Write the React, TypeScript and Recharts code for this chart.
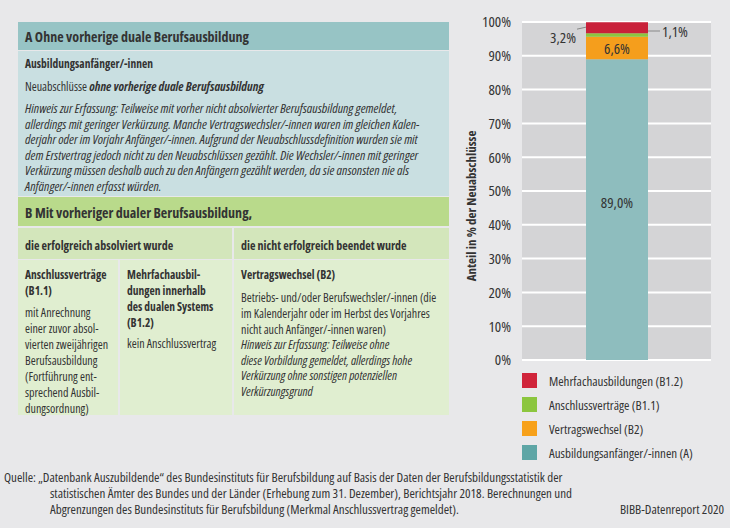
import { BarChart, Bar, XAxis, YAxis, CartesianGrid, LabelList } from 'recharts'

const categories = ['Neuabschlüsse 2018']
const anfaenger = [89.0]
const vertragswechsel = [6.6]
const anschluss = [1.1]
const mehrfach = [3.2]
const yTicks = [0, 10, 20, 30, 40, 50, 60, 70, 80, 90, 100]

const seriesNames = ['Ausbildungsanfänger/-innen (A)', 'Vertragswechsel (B2)', 'Anschlussverträge (B1.1)', 'Mehrfachausbildungen (B1.2)']

const FONT = '"Open Sans", Roboto, sans-serif'
const TXT = '#333333'
const COND: any = { fontStretch: 'condensed' }

const data = categories.map((name, i) => ({
    name,
    anfaenger: anfaenger[i],
    vertragswechsel: vertragswechsel[i],
    anschluss: anschluss[i],
    mehrfach: mehrfach[i],
}))

const fmt = (v: number) => `${v.toFixed(1).replace('.', ',')}%`

const legendItems = [
    { name: seriesNames[3], color: '#d0243a' },
    { name: seriesNames[2], color: '#8cc63f' },
    { name: seriesNames[1], color: '#f7a11a' },
    { name: seriesNames[0], color: '#5ea6a6' },
]

const CenterLabel = ({ x, y, width, height, value, dy = 0 }: any) => (
    <text x={x + width / 2} y={y + height / 2 + dy} fill={TXT} fontSize={15} textAnchor="middle" dominantBaseline="central" fontFamily={FONT} style={COND}>
        {fmt(value)}
    </text>
)

const LeftLabel = ({ x, y, height, value }: any) => (
    <g>
        <line x1={x - 9} y1={y + height - 4} x2={x} y2={y + height - 6} stroke="#888" strokeWidth={1} />
        <text x={x - 10} y={y + height + 4} fill={TXT} fontSize={15} textAnchor="end" dominantBaseline="central" fontFamily={FONT} style={COND}>
            {fmt(value)}
        </text>
    </g>
)

const RightLabel = ({ x, y, width, height, value }: any) => (
    <g>
        <line x1={x + width} y1={y + height / 2 - 4} x2={x + width + 12} y2={y + height / 2 - 4} stroke="#888" strokeWidth={1} />
        <text x={x + width + 14} y={y + height / 2 - 4} fill={TXT} fontSize={15} textAnchor="start" dominantBaseline="central" fontFamily={FONT} style={COND}>
            {fmt(value)}
        </text>
    </g>
)

// one text line, centred vertically on `mid`
const line = (mid: number, left: number, text: any, opts: any = {}) => (
    <div style={{ position: 'absolute', top: mid - 7.5, left, height: 15, lineHeight: '15px', whiteSpace: 'nowrap', fontSize: 12, ...opts }}>
        {text}
    </div>
)

const H: any = { fontWeight: 'bold', fontSize: 14 }
const B: any = { fontWeight: 'bold', fontSize: 11.5 }
const I: any = { fontStyle: 'italic', fontSize: 13.2 }
const SRC: any = { fontSize: 13 }

export default function App() {
    return (
        <div style={{ position: 'absolute', left: 0, top: 0, width: 730, height: 528, background: '#e8e8ea', fontFamily: FONT, fontStretch: 'condensed', color: TXT, overflow: 'hidden' }}>
            {/* A */}
            <div style={{ position: 'absolute', left: 18, top: 22, width: 431, height: 28, background: '#97c4c5' }} />
            <div style={{ position: 'absolute', left: 18, top: 51, width: 431, height: 145, background: '#c9dfe1' }} />
            {line(36, 25, 'A Ohne vorherige duale Berufsausbildung', H)}
            {line(63, 25, 'Ausbildungsanfänger/-innen', B)}
            {line(86, 25, <>Neuabschlüsse <b><i style={{ fontSize: 12.5 }}>ohne vorherige duale Berufsausbildung</i></b></>)}
            {line(108, 25, 'Hinweis zur Erfassung: Teilweise mit vorher nicht absolvierter Berufsausbildung gemeldet,', I)}
            {line(124, 25, 'allerdings mit geringer Verkürzung. Manche Vertragswechsler/-innen waren im gleichen Kalen-', I)}
            {line(139, 25, 'derjahr oder im Vorjahr Anfänger/-innen. Aufgrund der Neuabschlussdefinition wurden sie mit', I)}
            {line(155, 25, 'dem Erstvertrag jedoch nicht zu den Neuabschlüssen gezählt. Die Wechsler/-innen mit geringer', I)}
            {line(170, 25, 'Verkürzung müssen deshalb auch zu den Anfängern gezählt werden, da sie ansonsten nie als', I)}
            {line(186, 25, 'Anfänger/-innen erfasst würden.', I)}

            {/* B */}
            <div style={{ position: 'absolute', left: 18, top: 197, width: 431, height: 29, background: '#b9da8b' }} />
            {line(212, 25, 'B Mit vorheriger dualer Berufsausbildung,', H)}
            <div style={{ position: 'absolute', left: 18, top: 228, width: 214, height: 31, background: '#d3e6bb' }} />
            <div style={{ position: 'absolute', left: 234, top: 228, width: 215, height: 31, background: '#d3e6bb' }} />
            <div style={{ position: 'absolute', left: 18, top: 260, width: 100, height: 155, background: '#e0eed0' }} />
            <div style={{ position: 'absolute', left: 120, top: 260, width: 112, height: 155, background: '#e0eed0' }} />
            <div style={{ position: 'absolute', left: 234, top: 260, width: 215, height: 155, background: '#e0eed0' }} />
            {line(245, 25, 'die erfolgreich absolviert wurde', { ...B, fontSize: 12 })}
            {line(245, 241, 'die nicht erfolgreich beendet wurde', { ...B, fontSize: 12 })}

            {line(274, 25, 'Anschlussverträge', B)}
            {line(290, 25, '(B1.1)', B)}
            {line(312, 25, 'mit Anrechnung')}
            {line(328, 25, 'einer zuvor absol-')}
            {line(344, 25, 'vierten zweijährigen')}
            {line(360, 25, 'Berufsausbildung')}
            {line(376, 25, '(Fortführung ent-')}
            {line(392, 25, 'sprechend Ausbil-')}
            {line(408, 25, 'dungsordnung)')}

            {line(274, 127, 'Mehrfachausbil-', B)}
            {line(290, 127, 'dungen innerhalb', B)}
            {line(306, 127, 'des dualen Systems', B)}
            {line(322, 127, '(B1.2)', B)}
            {line(343, 127, 'kein Anschlussvertrag')}

            {line(274, 241, 'Vertragswechsel (B2)', B)}
            {line(297, 241, 'Betriebs- und/oder Berufswechsler/-innen (die')}
            {line(313, 241, 'im Kalenderjahr oder im Herbst des Vorjahres')}
            {line(329, 241, 'nicht auch Anfänger/-innen waren)')}
            {line(344, 241, 'Hinweis zur Erfassung: Teilweise ohne', { ...I, fontSize: 12.5 })}
            {line(360, 241, 'diese Vorbildung gemeldet, allerdings hohe', { ...I, fontSize: 12.5 })}
            {line(375, 241, 'Verkürzung ohne sonstigen potenziellen', { ...I, fontSize: 12.5 })}
            {line(391, 241, 'Verkürzungsgrund', { ...I, fontSize: 12.5 })}

            {/* chart */}
            <div style={{ position: 'absolute', left: 460, top: 0 }}>
                <BarChart width={270} height={380} data={data} margin={{ top: 22, right: 19, left: 0, bottom: 20 }} barSize={62}>
                    <CartesianGrid fill="#d4d4d6" stroke="#ffffff" strokeWidth={2} vertical={false} />
                    <XAxis dataKey="name" hide />
                    <YAxis
                        domain={[0, 100]}
                        ticks={yTicks}
                        width={62}
                        axisLine={false}
                        tickLine={false}
                        tickMargin={5}
                        interval={0}
                        tickFormatter={(v: number) => `${v}%`}
                        tick={{ fill: TXT, fontSize: 15, fontFamily: FONT, style: COND }}
                        label={() => (
                            <text
                                x={11}
                                y={206}
                                transform="rotate(-90, 11, 206)"
                                textAnchor="middle"
                                dominantBaseline="central"
                                fontSize={13}
                                fontWeight="bold"
                                fill={TXT}
                                fontFamily={FONT}
                                style={COND}
                            >
                                Anteil in % der Neuabschlüsse
                            </text>
                        )}
                    />
                    <Bar dataKey="anfaenger" name={seriesNames[0]} stackId="a" fill="#8ebdbe" isAnimationActive={false}>
                        <LabelList dataKey="anfaenger" content={(p: any) => <CenterLabel {...p} dy={-8} />} />
                    </Bar>
                    <Bar dataKey="vertragswechsel" name={seriesNames[1]} stackId="a" fill="#f59e1c" isAnimationActive={false}>
                        <LabelList dataKey="vertragswechsel" content={(p: any) => <CenterLabel {...p} />} />
                    </Bar>
                    <Bar dataKey="anschluss" name={seriesNames[2]} stackId="a" fill="#8cc63f" isAnimationActive={false}>
                        <LabelList dataKey="anschluss" content={(p: any) => <RightLabel {...p} />} />
                    </Bar>
                    <Bar dataKey="mehrfach" name={seriesNames[3]} stackId="a" fill="#c9213a" isAnimationActive={false}>
                        <LabelList dataKey="mehrfach" content={(p: any) => <LeftLabel {...p} />} />
                    </Bar>
                </BarChart>
            </div>

            {/* legend */}
            {legendItems.map((item, i) => (
                <div key={item.name}>
                    <div style={{ position: 'absolute', left: 522, top: 373 + i * 24, width: 15, height: 15, background: item.color }} />
                    {line(381 + i * 24, 549, item.name, { fontSize: 13 })}
                </div>
            ))}

            {/* source */}
            {line(477, 4, 'Quelle: „Datenbank Auszubildende“ des Bundesinstituts für Berufsbildung auf Basis der Daten der Berufsbildungsstatistik der', SRC)}
            {line(493, 50, 'statistischen Ämter des Bundes und der Länder (Erhebung zum 31. Dezember), Berichtsjahr 2018. Berechnungen und', SRC)}
            {line(509, 50, 'Abgrenzungen des Bundesinstituts für Berufsbildung (Merkmal Anschlussvertrag gemeldet).', SRC)}
            <div style={{ position: 'absolute', top: 501.5, right: 6, height: 15, lineHeight: '15px', fontSize: 13, whiteSpace: 'nowrap' }}>BIBB-Datenreport 2020</div>
        </div>
    )
}
